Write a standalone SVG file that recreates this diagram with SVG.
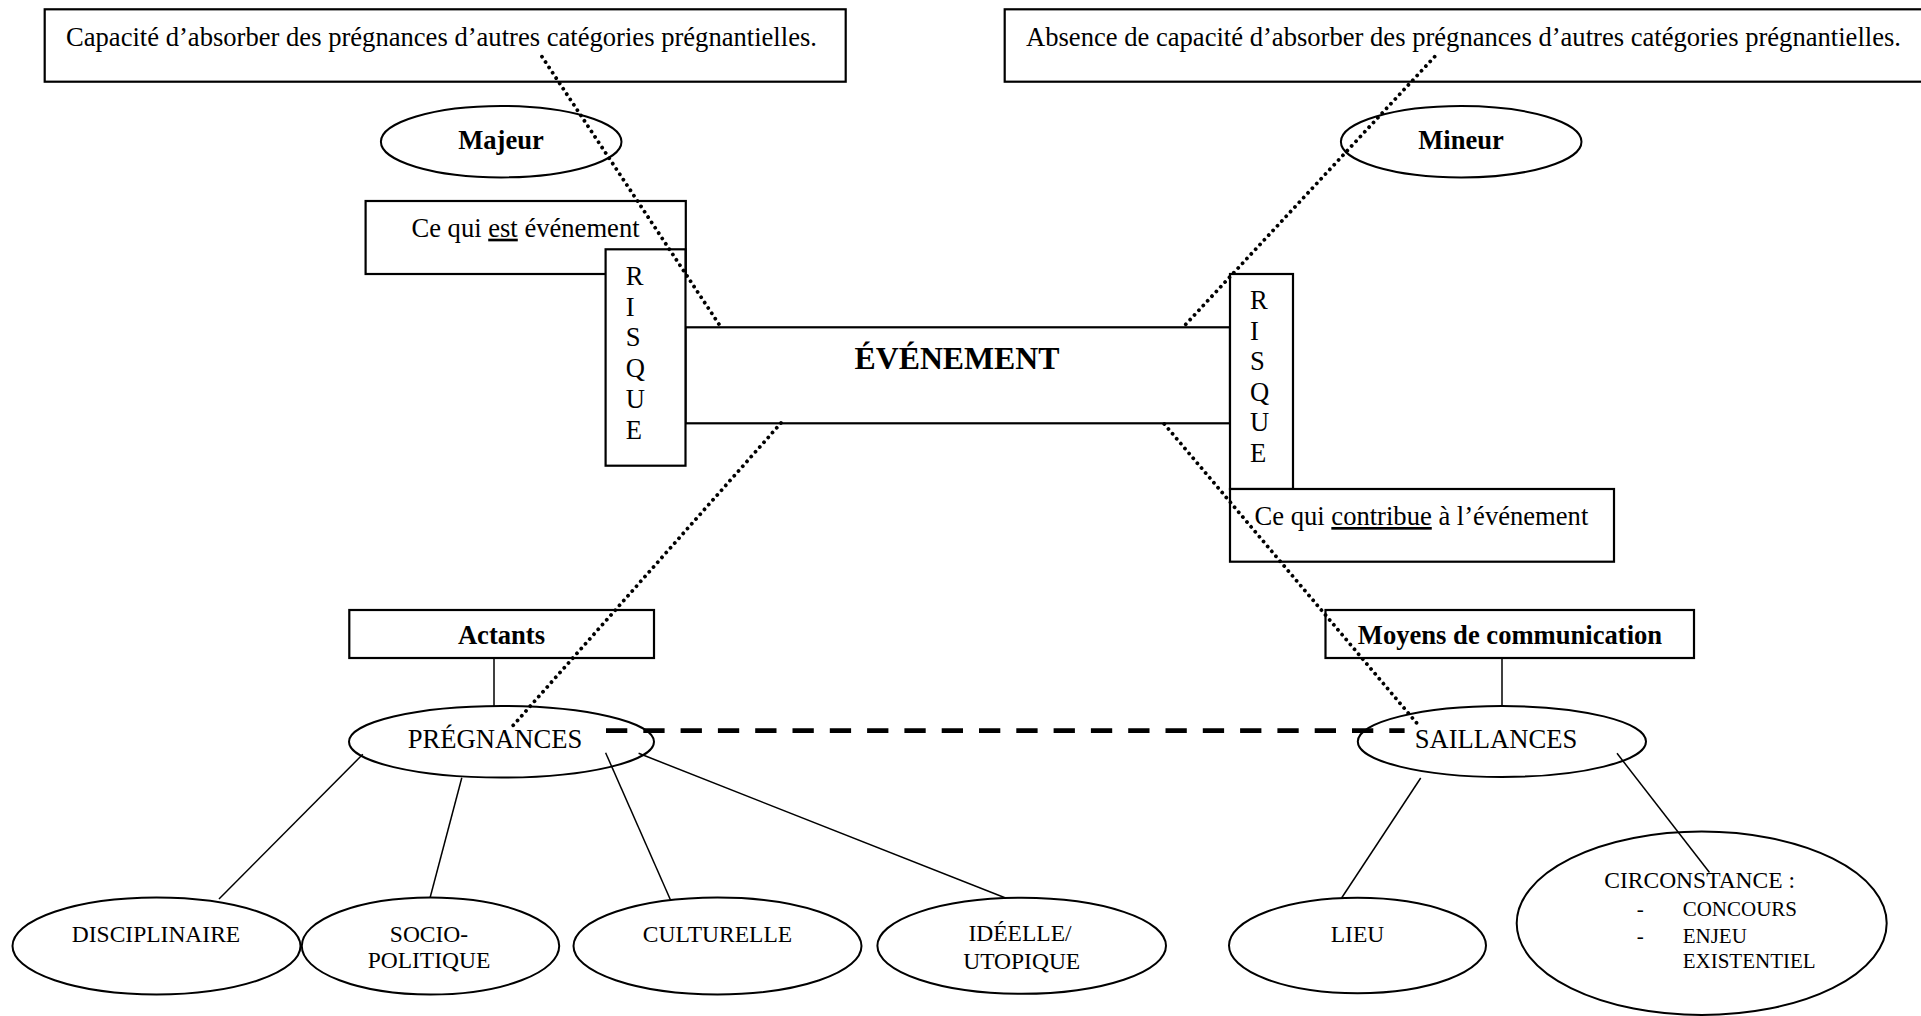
<svg xmlns="http://www.w3.org/2000/svg" width="1921" height="1016" viewBox="0 0 1921 1016">
<style>
text{font-family:"Liberation Serif","Times New Roman",serif;fill:#000}
.t{font-size:26.6px}
.b{font-size:26.6px;font-weight:bold}
.s{font-size:23.5px}
.xs{font-size:21px}
.m{text-anchor:middle}
.box{fill:#fff;stroke:#000;stroke-width:2.2}
.ell{fill:none;stroke:#000;stroke-width:2}
.ln{stroke:#000;stroke-width:1.5;fill:none}
.dot{stroke:#000;stroke-width:3.8;stroke-linecap:round;stroke-dasharray:0.01 6.4;fill:none}
.dash{stroke:#000;stroke-width:4.7;stroke-dasharray:21.3 16;fill:none}
</style>
<rect width="1921" height="1016" fill="#fff"/>
<g id="capacite">
<rect class="box" x="44.7" y="9.3" width="801" height="72.4"/>
<text class="t" x="66" y="45.5">Capacité d’absorber des prégnances d’autres catégories prégnantielles.</text>
</g>
<g id="absence">
<rect class="box" x="1004.7" y="9.3" width="930" height="72.4"/>
<text class="t" x="1026" y="45.5">Absence de capacité d’absorber des prégnances d’autres catégories prégnantielles.</text>
</g>
<g id="majeur">
<ellipse class="ell" cx="501.2" cy="141.7" rx="120.3" ry="35.7"/>
<text class="b m" x="501" y="149">Majeur</text>
</g>
<g id="mineur">
<ellipse class="ell" cx="1461.2" cy="141.7" rx="120.3" ry="35.7"/>
<text class="b m" x="1461" y="149">Mineur</text>
</g>
<g id="ce-qui-est">
<rect class="box" x="365.6" y="201" width="320.2" height="73"/>
<text class="t" x="411.4" y="236.7">Ce qui <tspan text-decoration="underline">est</tspan> événement</text>
</g>
<g id="evenement">
<rect class="box" x="685.5" y="327.3" width="544.5" height="96"/>
<text class="m" x="957" y="369" style="font-size:31.8px;font-weight:bold">ÉVÉNEMENT</text>
</g>
<g id="risque-gauche">
<rect class="box" x="605.6" y="249.3" width="79.9" height="216.4"/>
<text class="t" x="625.7" y="285">R</text>
<text class="t" x="625.7" y="315.7">I</text>
<text class="t" x="625.7" y="346.4">S</text>
<text class="t" x="625.7" y="377.1">Q</text>
<text class="t" x="625.7" y="407.8">U</text>
<text class="t" x="625.7" y="438.5">E</text>
</g>
<g id="risque-droite">
<rect class="box" x="1230" y="274" width="63" height="215"/>
<text class="t" x="1250" y="309.3">R</text>
<text class="t" x="1250" y="339.8">I</text>
<text class="t" x="1250" y="370.3">S</text>
<text class="t" x="1250" y="400.8">Q</text>
<text class="t" x="1250" y="431.3">U</text>
<text class="t" x="1250" y="461.8">E</text>
</g>
<g id="ce-qui-contribue">
<rect class="box" x="1230" y="489" width="384" height="72.7"/>
<text class="t" x="1254.5" y="525">Ce qui <tspan text-decoration="underline">contribue</tspan> à l’événement</text>
</g>
<g id="actants">
<rect class="box" x="349.3" y="610" width="304.7" height="48"/>
<text class="b m" x="501.5" y="644">Actants</text>
</g>
<g id="moyens">
<rect class="box" x="1325.5" y="610" width="368.5" height="48"/>
<text class="b m" x="1510" y="644">Moyens de communication</text>
</g>
<g id="pregnances">
<ellipse class="ell" cx="501.5" cy="741.8" rx="152.5" ry="35.8"/>
<text class="t m" x="495" y="748.3">PRÉGNANCES</text>
</g>
<g id="saillances">
<ellipse class="ell" cx="1501.9" cy="741.5" rx="144.1" ry="35.5"/>
<text class="t m" x="1496" y="748">SAILLANCES</text>
</g>
<g id="disciplinaire">
<ellipse class="ell" cx="156.5" cy="946" rx="144" ry="48.5"/>
<text class="s m" x="156" y="941.7">DISCIPLINAIRE</text>
</g>
<g id="sociopolitique">
<ellipse class="ell" cx="430.5" cy="946" rx="128.7" ry="48.5"/>
<text class="s m" x="429" y="941.7">SOCIO-</text>
<text class="s m" x="429" y="968.3">POLITIQUE</text>
</g>
<g id="culturelle">
<ellipse class="ell" cx="717.5" cy="946" rx="144" ry="48.5"/>
<text class="s m" x="717.5" y="941.7">CULTURELLE</text>
</g>
<g id="ideelle">
<ellipse class="ell" cx="1021.7" cy="945.8" rx="144.3" ry="48"/>
<text class="s m" x="1020" y="941">IDÉELLE/</text>
<text class="s m" x="1021.7" y="969.3">UTOPIQUE</text>
</g>
<g id="lieu">
<ellipse class="ell" cx="1357.5" cy="945.5" rx="128.5" ry="47.7"/>
<text class="s m" x="1357.5" y="941.7">LIEU</text>
</g>
<g id="circonstance">
<ellipse class="ell" cx="1701.7" cy="923.3" rx="185" ry="91.7"/>
<text class="s" x="1604.3" y="888.3">CIRCONSTANCE :</text>
<text class="xs" x="1636.7" y="915.7">-</text>
<text class="xs" x="1682.7" y="915.7">CONCOURS</text>
<text class="xs" x="1636.7" y="942.7">-</text>
<text class="xs" x="1682.7" y="942.7">ENJEU</text>
<text class="xs" x="1682.7" y="967.7">EXISTENTIEL</text>
</g>
<g id="connectors">
<line class="ln" x1="494" y1="658" x2="494" y2="706"/>
<line class="ln" x1="1502" y1="658" x2="1502" y2="706"/>
<line class="ln" x1="362.8" y1="754.3" x2="219" y2="899"/>
<line class="ln" x1="461.8" y1="777.7" x2="430.2" y2="897.3"/>
<line class="ln" x1="605.6" y1="752.7" x2="670.2" y2="899.3"/>
<line class="ln" x1="638.6" y1="753.3" x2="1005" y2="897.7"/>
<line class="ln" x1="1420.7" y1="778" x2="1341.6" y2="898"/>
<line class="ln" x1="1617" y1="753.3" x2="1709.5" y2="872.5"/>
<line class="dash" x1="606" y1="730.7" x2="1404.6" y2="730.7"/>
<line class="dot" x1="542" y1="56.7" x2="720.8" y2="327"/>
<line class="dot" x1="1434.6" y1="56.7" x2="1183" y2="327.3"/>
<line class="dot" x1="781" y1="423" x2="512.9" y2="725.7"/>
<line class="dot" x1="1164.3" y1="424" x2="1419.8" y2="726.7"/>
</g>
</svg>
